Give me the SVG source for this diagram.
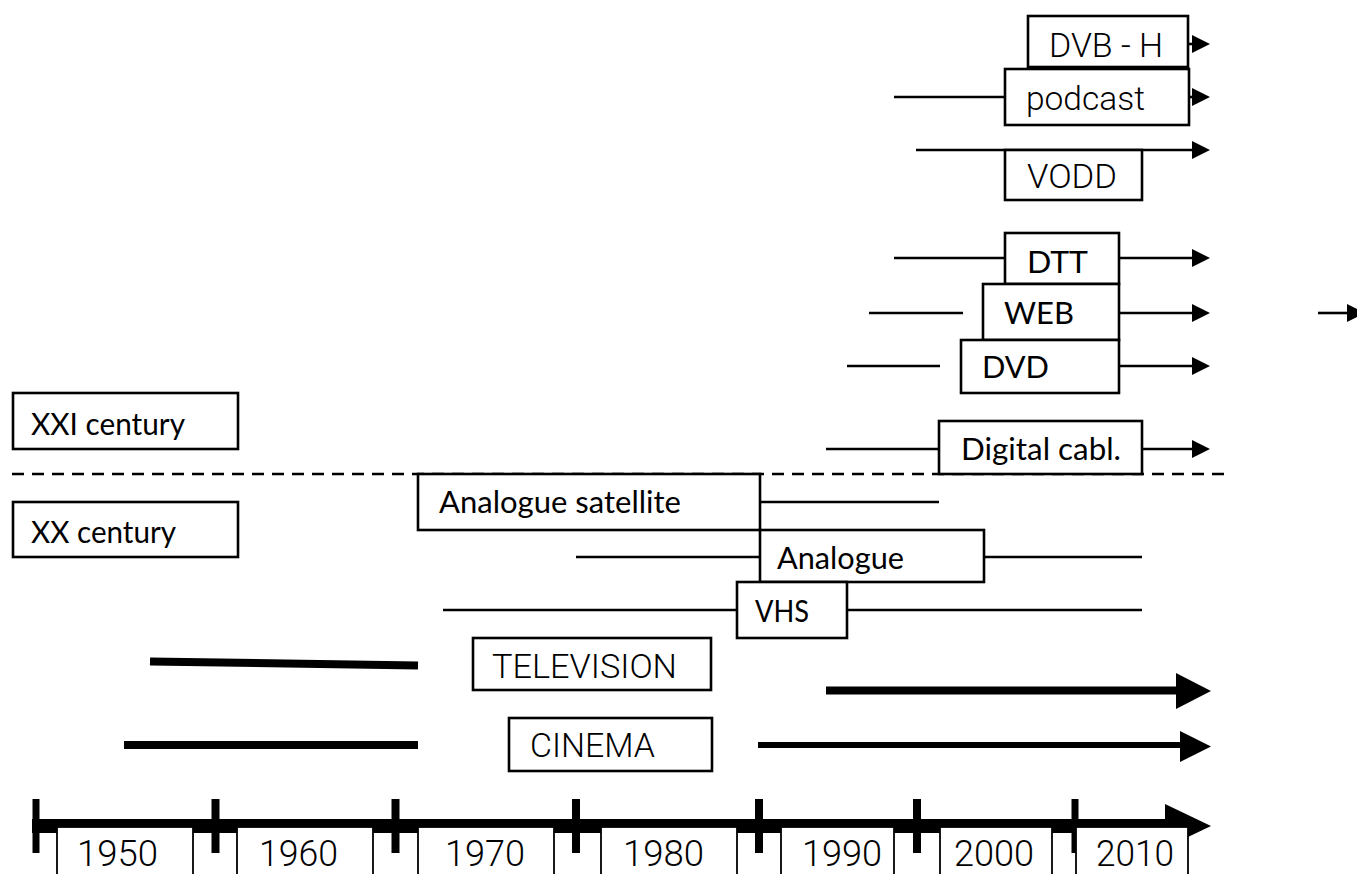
<svg xmlns="http://www.w3.org/2000/svg" width="1357" height="874" viewBox="0 0 1357 874">
<style>
.box{fill:#fff;stroke:#000;stroke-width:2.6}
.ybox{fill:#fff;stroke:#000;stroke-width:1.8}
.ln{stroke:#000;stroke-width:2.6;fill:none}
.thick{stroke:#000;stroke-width:8;fill:none}
.tick{stroke:#000;stroke-width:8}
.cal{font-family:Lato,"Liberation Sans",sans-serif;font-size:31px;fill:#000}
.dv{font-family:Roboto,"DejaVu Sans",sans-serif;font-weight:300;font-size:34px;fill:#000}
.yr{font-family:Roboto,"DejaVu Sans",sans-serif;font-weight:300;font-size:36px;fill:#000}
</style>
<defs>
<marker id="ah" markerUnits="userSpaceOnUse" markerWidth="18" markerHeight="18" viewBox="0 0 18 18" refX="0" refY="9" orient="auto"><path d="M0,0 L18,9 L0,18 z" fill="#000"/></marker>
</defs>
<rect width="1357" height="874" fill="#fff"/>
<g id="connectors">
<line class="ln" x1="1188" y1="44" x2="1192" y2="44" marker-end="url(#ah)"/>
<line class="ln" x1="894" y1="97" x2="1005" y2="97"/>
<line class="ln" x1="1189" y1="97" x2="1192" y2="97" marker-end="url(#ah)"/>
<line class="ln" x1="916" y1="150" x2="1192" y2="150" marker-end="url(#ah)"/>
<line class="ln" x1="894" y1="258" x2="1005" y2="258"/>
<line class="ln" x1="1119" y1="258" x2="1192" y2="258" marker-end="url(#ah)"/>
<line class="ln" x1="869" y1="313" x2="963" y2="313"/>
<line class="ln" x1="1119" y1="313" x2="1192" y2="313" marker-end="url(#ah)"/>
<line class="ln" x1="847" y1="366" x2="940" y2="366"/>
<line class="ln" x1="1119" y1="366" x2="1192" y2="366" marker-end="url(#ah)"/>
<line class="ln" x1="826" y1="449" x2="939" y2="449"/>
<line class="ln" x1="1142" y1="449" x2="1192" y2="449" marker-end="url(#ah)"/>
<line class="ln" x1="1318" y1="313" x2="1347" y2="313" marker-end="url(#ah)"/>
<line class="ln" x1="12" y1="474" x2="1230" y2="474" stroke-dasharray="12 8"/>
<line class="ln" x1="760" y1="502" x2="939" y2="502"/>
<line class="ln" x1="576" y1="557" x2="760" y2="557"/>
<line class="ln" x1="984" y1="557" x2="1142" y2="557"/>
<line class="ln" x1="443" y1="610" x2="737" y2="610"/>
<line class="ln" x1="847" y1="610" x2="1142" y2="610"/>
<line class="thick" x1="150" y1="661.5" x2="418" y2="665.5"/>
<line class="thick" x1="826" y1="690.5" x2="1178" y2="690.5"/>
<polygon points="1176,673 1211,691 1176,709" fill="#000"/>
<line class="thick" x1="124" y1="745" x2="418" y2="745"/>
<line class="thick" style="stroke-width:6" x1="758" y1="745" x2="1182" y2="745"/>
<polygon points="1180,731 1211,746.5 1180,762" fill="#000"/>
</g>
<g id="timeline">
<line x1="32" y1="826" x2="1168" y2="826" stroke="#000" stroke-width="14"/>
<polygon points="1165,804 1211,826 1165,848" fill="#000"/>
<line class="tick" style="stroke-width:7" x1="36" y1="799" x2="36" y2="853"/>
<line class="tick" x1="215.5" y1="799" x2="215.5" y2="853"/>
<line class="tick" x1="395.5" y1="799" x2="395.5" y2="853"/>
<line class="tick" x1="576" y1="799" x2="576" y2="853"/>
<line class="tick" x1="759" y1="799" x2="759" y2="853"/>
<line class="tick" x1="917" y1="799" x2="917" y2="853"/>
<line class="tick" style="stroke-width:7" x1="1075" y1="799" x2="1075" y2="853"/>
</g>
<g id="y1950"><rect class="ybox" x="57" y="827" width="136" height="60"/><text class="yr" x="77" y="866" textLength="81" lengthAdjust="spacingAndGlyphs">1950</text></g>
<g id="y1960"><rect class="ybox" x="237" y="827" width="136" height="60"/><text class="yr" x="259" y="866" textLength="79" lengthAdjust="spacingAndGlyphs">1960</text></g>
<g id="y1970"><rect class="ybox" x="418" y="827" width="136" height="60"/><text class="yr" x="445" y="866" textLength="80" lengthAdjust="spacingAndGlyphs">1970</text></g>
<g id="y1980"><rect class="ybox" x="601" y="827" width="136" height="60"/><text class="yr" x="623" y="866" textLength="81" lengthAdjust="spacingAndGlyphs">1980</text></g>
<g id="y1990"><rect class="ybox" x="781" y="827" width="113" height="60"/><text class="yr" x="802" y="866" textLength="80" lengthAdjust="spacingAndGlyphs">1990</text></g>
<g id="y2000"><rect class="ybox" x="940" y="827" width="112" height="60"/><text class="yr" x="954" y="866" textLength="80" lengthAdjust="spacingAndGlyphs">2000</text></g>
<g id="y2010"><rect class="ybox" x="1076" y="827" width="112" height="60"/><text class="yr" x="1096" y="866" textLength="78" lengthAdjust="spacingAndGlyphs">2010</text></g>
<g id="dvbh"><rect class="box" x="1028" y="16" width="160" height="51"/><text class="dv" x="1049" y="57" textLength="114" lengthAdjust="spacingAndGlyphs">DVB - H</text></g>
<g id="podcast"><rect class="box" x="1005" y="69" width="184" height="56"/><text class="dv" x="1026" y="110" textLength="119" lengthAdjust="spacingAndGlyphs">podcast</text></g>
<g id="vodd"><rect class="box" x="1005" y="150" width="137" height="50"/><text class="dv" x="1027" y="188" textLength="90" lengthAdjust="spacingAndGlyphs">VODD</text></g>
<g id="dtt"><rect class="box" x="1005" y="233" width="114" height="51"/><text class="cal" x="1027" y="273" textLength="61" lengthAdjust="spacingAndGlyphs">DTT</text></g>
<g id="web"><rect class="box" x="983" y="284" width="136" height="56"/><text class="cal" x="1004" y="324" textLength="70" lengthAdjust="spacingAndGlyphs">WEB</text></g>
<g id="dvd"><rect class="box" x="961" y="340" width="158" height="53"/><text class="cal" x="982" y="378" textLength="67" lengthAdjust="spacingAndGlyphs">DVD</text></g>
<g id="digitalcabl"><rect class="box" x="939" y="421" width="203" height="53"/><text class="cal" x="961" y="460" textLength="160" lengthAdjust="spacingAndGlyphs">Digital cabl.</text></g>
<g id="xxi"><rect class="box" x="13" y="393" width="225" height="56"/><text class="cal" x="31" y="435" textLength="154" lengthAdjust="spacingAndGlyphs">XXI century</text></g>
<g id="xx"><rect class="box" x="13" y="502" width="225" height="55"/><text class="cal" x="31" y="543" textLength="145" lengthAdjust="spacingAndGlyphs">XX century</text></g>
<g id="analoguesat"><rect class="box" x="418" y="474" width="342" height="56"/><text class="cal" x="439" y="513" textLength="242" lengthAdjust="spacingAndGlyphs">Analogue satellite</text></g>
<g id="analogue"><rect class="box" x="760" y="530" width="224" height="52"/><text class="cal" x="777" y="569" textLength="127" lengthAdjust="spacingAndGlyphs">Analogue</text></g>
<g id="vhs"><rect class="box" x="737" y="582" width="110" height="56"/><text class="cal" x="755" y="622" textLength="54" lengthAdjust="spacingAndGlyphs">VHS</text></g>
<g id="television"><rect class="box" x="473" y="638" width="238" height="52"/><text class="dv" x="492" y="678" textLength="185" lengthAdjust="spacingAndGlyphs">TELEVISION</text></g>
<g id="cinema"><rect class="box" x="509" y="718" width="203" height="53"/><text class="dv" x="530" y="757" textLength="125" lengthAdjust="spacingAndGlyphs">CINEMA</text></g>
</svg>
